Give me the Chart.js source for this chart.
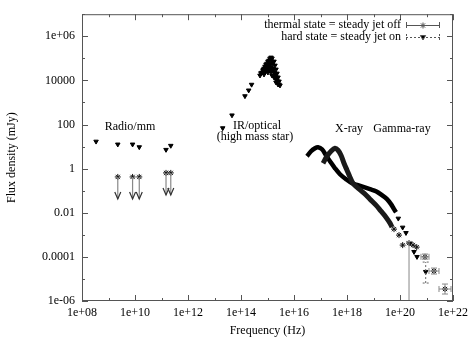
<!DOCTYPE html>
<html><head><meta charset="utf-8">
<script src="https://cdn.jsdelivr.net/npm/chart.js@4/dist/chart.umd.min.js"></script>
<style>html,body{margin:0;padding:0;background:#fff;}</style>
</head><body>
<canvas id="c" width="474" height="339" style="width:474px;height:339px;display:block"></canvas>
<script>
// ---------- data ----------
const xTickValues = [1e8,1e9,1e10,1e11,1e12,1e13,1e14,1e15,1e16,1e17,1e18,1e19,1e20,1e21,1e22];
const xTickLabels = ['1e+08','','1e+10','','1e+12','','1e+14','','1e+16','','1e+18','','1e+20','','1e+22'];
const yTickValues = [1e-6,1e-5,1e-4,1e-3,1e-2,1e-1,1,10,100,1e3,1e4,1e5,1e6,1e7];
const yTickLabels = ['1e-06','','0.0001','','0.01','','1','','100','','10000','','1e+06',''];
const legendLabels = ['thermal state = steady jet off','hard state = steady jet on'];

// hard state (steady jet on)
const radioFreq = [3.39e8, 2.24e9, 8.1e9, 1.45e10, 1.48e11, 2.24e11];
const radioFlux = [17, 12.6, 12.6, 9.5, 7.2, 11];
const irFreq = [2.04e13, 4.57e13, 1.41e14, 1.95e14, 2.51e14, 5.62e14, 6.92e14,
  6.19e14, 7.38e14, 8.77e14, 1.04e15, 1.24e15, 1.48e15, 1.76e15, 1.92e15, 2.09e15, 2.28e15, 2.49e15, 2.72e15, 2.96e15,
  8.77e14, 1.04e15, 1.24e15, 1.48e15, 1.61e15, 1.76e15, 1.92e15, 2.28e15, 1.24e15, 1.36e15, 1.48e15, 1.04e15, 7.38e14,
  2.49e15, 2.09e15, 1.36e15, 5.21e14,
  6.76e14, 8.05e14, 9.58e14, 1.14e15, 1.36e15, 1.61e15, 1.14e15, 1.36e15, 1.61e15, 1.92e15, 2.09e15, 2.28e15, 2.72e15,
  9.58e14, 8.05e14, 1.14e15, 1.48e15, 1.76e15, 2.09e15];
const irFlux = [69, 263, 1950, 3550, 6460, 2.14e4, 3.02e4,
  2.30e4, 3.49e4, 5.30e4, 7.24e4, 9.89e4, 9.89e4, 7.24e4, 4.78e4, 3.15e4, 2.07e4, 1.37e4, 9.02e3, 5.94e3,
  2.83e4, 4.30e4, 5.87e4, 5.30e4, 3.49e4, 2.30e4, 1.52e4, 1.00e4, 3.49e4, 2.30e4, 1.68e4, 2.30e4, 1.87e4,
  6.59e3, 1.11e4, 1.10e5, 1.68e4,
  2.83e4, 4.30e4, 5.87e4, 8.04e4, 8.04e4, 6.52e4, 4.78e4, 3.87e4, 2.83e4, 2.07e4, 1.87e4, 1.37e4, 6.59e3,
  3.49e4, 2.30e4, 2.83e4, 2.83e4, 1.37e4, 8.13e3];
const hardXFreq = [3.10e16, 4.39e16, 6.20e16, 8.05e16, 1.14e17, 1.61e17, 2.28e17, 3.52e17, 5.44e17, 9.17e17,
  1.55e18, 2.60e18, 4.38e18, 7.38e18, 1.24e19, 2.09e19, 3.23e19, 4.57e19, 5.94e19, 7.07e19];
const hardXFlux = [3.64, 6.12, 8.38, 9.29, 7.55, 4.04, 2.16, 1.04, 0.558, 0.331,
  0.218, 0.177, 0.144, 0.117, 0.0948, 0.0625, 0.0412, 0.0245, 0.0146, 0.0106];
const hardGFreq = [8.63e19, 1.26e20, 1.68e20, 2.38e20, 3.38e20, 4.38e20, 9.33e20];
const hardGFlux = [0.00552, 0.00216, 0.00123, 4.21e-4, 1.70e-4, 1.01e-4, 2.12e-5];
const hardGFluxLo = [null, null, null, null, null, null, 6.52e-6];
const hardGFluxHi = [null, null, null, null, null, null, 5.82e-5];

// thermal state (steady jet off)
const ulFreq = [2.24e9, 8.1e9, 1.45e10, 1.48e11, 2.24e11];
const ulFlux = [0.42, 0.42, 0.42, 0.64, 0.64];
const thermXFreq = [1.24e17, 1.76e17, 2.49e17, 3.52e17, 4.57e17, 5.94e17, 7.71e17, 1.00e18, 1.30e18, 1.68e18,
  2.60e18, 4.38e18, 7.38e18, 1.24e19, 1.92e19, 2.96e19, 4.20e19, 4.99e19];
const thermXFlux = [1.75, 3.64, 6.12, 8.38, 6.81, 4.04, 1.75, 0.847, 0.408, 0.218,
  0.130, 0.0771, 0.0412, 0.0221, 0.0118, 0.00632, 0.00338, 0.00223];
const thermGFreq = [5.94e19, 9.17e19, 1.26e20, 2.19e20, 3.10e20, 4.27e20, 8.77e20, 1.92e21, 4.99e21];
const thermGFlux = [0.00181, 9.7e-4, 3.42e-4, 4.21e-4, 3.42e-4, 2.77e-4, 1.01e-4, 2.28e-5, 3.49e-6];
const thermGFreqLo = [null, null, null, null, null, null, 6.19e20, 1.24e21, 2.96e21];
const thermGFreqHi = [null, null, null, null, null, null, 1.24e21, 2.96e21, 8.41e21];
const thermGFluxLo = [null, null, null, 1e-7, null, null, 7.9e-5, 1.67e-5, 2.07e-6];
const thermGFluxHi = [null, null, null, 5.0e-4, null, null, 1.34e-4, 3.11e-5, 5.87e-6];

// text labels (data coordinates)
const regionLabels = ['Radio/mm', 'IR/optical', '(high mass star)', 'X-ray', 'Gamma-ray'];
const regionFreq = [6.5e9, 4.02e14, 3.37e14, 1.19e18, 1.19e20];
const regionFlux = [75, 83, 26.4, 67, 67];

// ---------- helpers ----------
const pts = (xs, ys) => xs.map((v, i) => ({x: v, y: ys[i]}));
const FONT = '"Liberation Serif", "DejaVu Serif", serif';

const drawPlugin = {
  id: 'gp',
  afterDatasetsDraw(chart) {
    const {ctx, chartArea: a, scales: {x, y}} = chart;
    ctx.save();
    ctx.beginPath(); ctx.rect(a.left, a.top, a.right - a.left, a.bottom - a.top); ctx.clip();
    chart.data.datasets.forEach(ds => {
      if (ds.err) {
        const e = ds.err;
        ctx.strokeStyle = ds.errColor || '#777'; ctx.lineWidth = 1;
        ctx.setLineDash(ds.errDash || []);
        ds.data.forEach((p, i) => {
          const px = x.getPixelForValue(p.x), py = y.getPixelForValue(p.y);
          if (e.yl && e.yl[i] != null) {
            const y1 = y.getPixelForValue(e.yl[i]), y2 = y.getPixelForValue(e.yh[i]);
            ctx.beginPath(); ctx.moveTo(px, y1); ctx.lineTo(px, y2);
            ctx.moveTo(px - 3, y1); ctx.lineTo(px + 3, y1);
            ctx.moveTo(px - 3, y2); ctx.lineTo(px + 3, y2); ctx.stroke();
          }
          if (e.xl && e.xl[i] != null) {
            const x1 = x.getPixelForValue(e.xl[i]), x2 = x.getPixelForValue(e.xh[i]);
            ctx.beginPath(); ctx.moveTo(x1, py); ctx.lineTo(x2, py);
            ctx.moveTo(x1, py - 3); ctx.lineTo(x1, py + 3);
            ctx.moveTo(x2, py - 3); ctx.lineTo(x2, py + 3); ctx.stroke();
          }
        });
        ctx.setLineDash([]);
      }
      if (ds.upperLimit) {
        ds.data.forEach(p => {
          const px = x.getPixelForValue(p.x), py = y.getPixelForValue(p.y);
          const pe = y.getPixelForValue(p.y / 10);
          ctx.strokeStyle = '#888'; ctx.lineWidth = 1.2;
          ctx.beginPath(); ctx.moveTo(px, py); ctx.lineTo(px, pe); ctx.stroke();
          ctx.strokeStyle = '#333';
          ctx.beginPath(); ctx.moveTo(px - 3, pe - 7); ctx.lineTo(px, pe); ctx.lineTo(px + 3, pe - 7); ctx.stroke();
        });
      }
    });
    ctx.restore();
  },
  afterDraw(chart) {
    const {ctx, chartArea: a, scales: {x, y}} = chart;
    ctx.save();
    // frame
    ctx.strokeStyle = '#555'; ctx.lineWidth = 1;
    ctx.strokeRect(a.left + 0.5, a.top + 0.5, a.right - a.left - 1, a.bottom - a.top - 1);
    // inward ticks
    ctx.beginPath();
    xTickValues.forEach((v, i) => {
      const px = Math.round(x.getPixelForValue(v)) + 0.5, L = xTickLabels[i] ? 6 : 3;
      ctx.moveTo(px, a.bottom); ctx.lineTo(px, a.bottom - L);
      ctx.moveTo(px, a.top); ctx.lineTo(px, a.top + L);
    });
    yTickValues.forEach((v, i) => {
      const py = Math.round(y.getPixelForValue(v)) + 0.5, L = yTickLabels[i] ? 6 : 3;
      ctx.moveTo(a.left, py); ctx.lineTo(a.left + L, py);
      ctx.moveTo(a.right, py); ctx.lineTo(a.right - L, py);
    });
    ctx.stroke();
    // region labels
    ctx.fillStyle = '#000'; ctx.font = '12px ' + FONT; ctx.textAlign = 'center'; ctx.textBaseline = 'middle';
    regionLabels.forEach((t, i) => ctx.fillText(t, x.getPixelForValue(regionFreq[i]), y.getPixelForValue(regionFlux[i])));
    // legend (gnuplot style)
    const lx = 401, s0 = 406, s1 = 440, rows = [25, 37];
    ctx.textAlign = 'right';
    ctx.fillText(legendLabels[0], lx, rows[0]);
    ctx.fillText(legendLabels[1], lx, rows[1]);
    ctx.strokeStyle = '#555'; ctx.lineWidth = 1;
    ctx.beginPath(); ctx.moveTo(s0, rows[0] + 0.5); ctx.lineTo(s1, rows[0] + 0.5);
    ctx.moveTo(s0 + 0.5, rows[0] - 3); ctx.lineTo(s0 + 0.5, rows[0] + 3);
    ctx.moveTo(s1 - 0.5, rows[0] - 3); ctx.lineTo(s1 - 0.5, rows[0] + 3); ctx.stroke();
    ctx.setLineDash([2, 2]);
    ctx.beginPath(); ctx.moveTo(s0, rows[1] + 0.5); ctx.lineTo(s1, rows[1] + 0.5);
    ctx.moveTo(s0 + 0.5, rows[1] - 3); ctx.lineTo(s0 + 0.5, rows[1] + 3);
    ctx.moveTo(s1 - 0.5, rows[1] - 3); ctx.lineTo(s1 - 0.5, rows[1] + 3); ctx.stroke();
    ctx.setLineDash([]);
    const mx = (s0 + s1) / 2;
    Chart.helpers.drawPoint(ctx, {pointStyle: 'star', radius: 3, rotation: 0, borderWidth: 1}, mx, rows[0] + 0.5);
    ctx.fillStyle = '#000';
    Chart.helpers.drawPoint(ctx, {pointStyle: 'triangle', radius: 3, rotation: 180, borderWidth: 1}, mx, rows[1]);
    ctx.restore();
  }
};

const tri = {pointStyle: 'triangle', pointRotation: 180, pointRadius: 2.6, pointBackgroundColor: '#000', pointBorderColor: '#000', pointBorderWidth: 1, showLine: false};
const star = {pointStyle: 'star', pointRadius: 3, pointBorderColor: '#111', pointBorderWidth: 1, pointBackgroundColor: '#111', showLine: false};

new Chart(document.getElementById('c'), {
  type: 'scatter',
  data: {
    datasets: [
      {label: 'thermal X', data: pts(thermXFreq, thermXFlux), showLine: true, borderColor: '#1a1a1a', borderWidth: 5, pointRadius: 0, tension: 0.35},
      {label: 'hard X', data: pts(hardXFreq, hardXFlux), showLine: true, borderColor: '#000', borderWidth: 4.5, pointRadius: 0, tension: 0.35},
      Object.assign({label: 'thermal UL', data: pts(ulFreq, ulFlux), upperLimit: true}, star),
      Object.assign({label: 'thermal gamma', data: pts(thermGFreq, thermGFlux), err: {xl: thermGFreqLo, xh: thermGFreqHi, yl: thermGFluxLo, yh: thermGFluxHi}, errColor: '#888'}, star),
      Object.assign({label: 'hard radio', data: pts(radioFreq, radioFlux)}, tri),
      Object.assign({label: 'hard IR', data: pts(irFreq, irFlux)}, tri),
      Object.assign({label: 'hard gamma', data: pts(hardGFreq, hardGFlux), err: {yl: hardGFluxLo, yh: hardGFluxHi}, errColor: '#666', errDash: [2, 2]}, tri)
    ]
  },
  options: {
    responsive: false, animation: false, devicePixelRatio: 1,
    layout: {padding: {left: 5, right: 21, top: 14, bottom: 0}},
    plugins: {legend: {display: false}, tooltip: {enabled: false}},
    scales: {
      x: {
        type: 'logarithmic', min: 1e8, max: 1e22,
        grid: {display: false, drawTicks: false}, border: {display: false},
        afterBuildTicks: s => { s.ticks = xTickValues.map(v => ({value: v})); },
        afterFit: s => { s.height = 38; },
        ticks: {autoSkip: false, maxRotation: 0, padding: 5, color: '#000', font: {family: FONT, size: 12},
          callback: (v, i) => xTickLabels[i]},
        title: {display: true, text: 'Frequency (Hz)', color: '#000', font: {family: FONT, size: 12}, padding: {top: 0, bottom: 1}}
      },
      y: {
        type: 'logarithmic', min: 1e-6, max: 1e7,
        grid: {display: false, drawTicks: false}, border: {display: false},
        afterBuildTicks: s => { s.ticks = yTickValues.map(v => ({value: v})); },
        afterFit: s => { s.width = 77; },
        ticks: {autoSkip: false, padding: 7, color: '#000', font: {family: FONT, size: 12},
          callback: (v, i) => yTickLabels[i]},
        title: {display: true, text: 'Flux density (mJy)', color: '#000', font: {family: FONT, size: 12}, padding: {top: 0, bottom: 0}}
      }
    }
  },
  plugins: [drawPlugin]
});
</script>
</body></html>
